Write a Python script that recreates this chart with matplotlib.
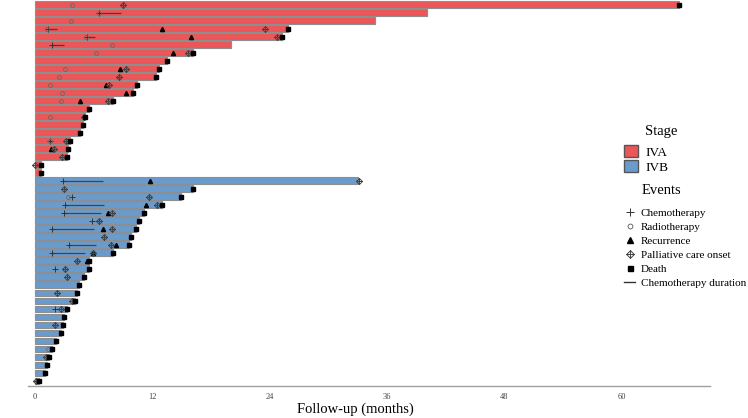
import numpy as np
import matplotlib.pyplot as plt
from matplotlib.path import Path
from matplotlib.patches import Patch
from matplotlib.lines import Line2D

plt.rcParams['font.family'] = ['Liberation Serif', 'DejaVu Serif']

# one row per patient, top to bottom
stage = ['IVA'] * 22 + ['IVB'] * 26
follow_up = [65.9, 40.1, 34.75, 25.85, 25.3, 20.1, 16.2, 13.5, 12.7, 12.4, 10.4,
             10.0, 8.0, 5.5, 5.15, 4.9, 4.6, 3.6, 3.4, 3.24, 0.68, 0.68,
             33.0, 16.2, 14.9, 12.96, 11.15, 10.64, 10.33, 9.82, 9.6, 8.0, 5.55,
             5.55, 5.05, 4.5, 4.33, 4.1, 3.3, 3.0, 2.9, 2.65, 2.2, 1.77, 1.43,
             1.28, 1.08, 0.44]
died = [1, 0, 0, 1, 1, 0, 1, 1, 1, 1, 1, 1, 1, 1, 1, 1, 1, 1, 1, 1, 1, 1,
        0, 1, 1, 1, 1, 1, 1, 1, 1, 1, 1, 1, 1, 1, 1, 1, 1, 1, 1, 1, 1, 1, 1,
        1, 1, 1]

# events: (row, months)
chemo = [(1, 6.6), (3, 1.3), (4, 5.3), (5, 1.8), (17, 1.6),
         (22, 2.9), (24, 3.8), (25, 3.07), (26, 3.0), (27, 5.83), (28, 1.8),
         (30, 3.5), (31, 1.8), (33, 2.1), (38, 2.1)]
chemo_span = [(1, 6.6, 8.8), (3, 1.3, 2.3), (4, 5.3, 6.2), (5, 1.8, 3.0),
              (22, 2.9, 7.0), (25, 3.07, 7.06), (26, 3.0, 6.75), (28, 1.8, 6.0),
              (30, 3.5, 6.3), (31, 1.8, 5.1)]
radio = [(0, 3.8), (1, 6.6), (2, 3.7), (3, 1.26), (4, 5.2), (5, 7.9), (6, 6.3),
         (8, 3.1), (9, 2.5), (10, 1.5), (11, 2.8), (12, 2.7), (14, 1.6), (17, 1.6),
         (24, 3.4), (43, 1.37)]
recurrence = [(3, 12.96), (4, 16.0), (6, 14.1), (8, 8.7), (10, 7.3), (11, 9.3),
              (12, 4.6), (18, 1.7), (22, 11.8), (25, 11.4), (26, 7.5), (28, 7.0),
              (30, 8.3), (31, 5.9), (32, 5.35)]
palliative = [(0, 9.0), (3, 23.5), (4, 24.8), (6, 15.7), (8, 9.3), (9, 8.6),
              (10, 7.6), (12, 7.5), (14, 5.0), (17, 3.2), (18, 2.0), (19, 2.8),
              (20, 0.0), (22, 33.2), (23, 2.97), (24, 11.7), (25, 12.45), (26, 7.9),
              (27, 6.6), (28, 7.9), (29, 7.06), (30, 7.8), (31, 5.9), (32, 4.35),
              (33, 3.05), (34, 3.3), (36, 2.3), (37, 3.8), (38, 2.7), (40, 2.05),
              (44, 1.1), (47, 0.1)]

stage_colors = {'IVA': '#ec5658', 'IVB': '#6a9bcd'}

# diamond with a cross inside
pall_marker = Path([(0, 1), (1, 0), (0, -1), (-1, 0), (0, 1), (0, 1), (0, -1), (-1, 0), (1, 0)],
                   [Path.MOVETO, Path.LINETO, Path.LINETO, Path.LINETO, Path.CLOSEPOLY,
                    Path.MOVETO, Path.LINETO, Path.MOVETO, Path.LINETO])

fig = plt.figure(figsize=(7.48, 4.18), dpi=100)
ax = fig.add_axes([28 / 748, 1 - 386 / 418, 682 / 748, 386 / 418])

rows = np.arange(len(follow_up))
ax.barh(rows, follow_up, height=0.86, left=0,
        color=[stage_colors[s] for s in stage], edgecolor='#8e8e8e', linewidth=0.8, zorder=1)

for r, a, b in chemo_span:
    ax.hlines(r, a, b, color='#2b2b2b', lw=0.9, alpha=0.75, zorder=2)

def pts(ev):
    return [e[1] for e in ev], [e[0] for e in ev]

x, y = pts(chemo)
ax.plot(x, y, ls='none', marker='+', ms=4.5, mew=0.7, color='#333333', zorder=3)
x, y = pts(radio)
ax.plot(x, y, ls='none', marker='o', ms=2.8, mew=0.6, mfc='none', mec='#666666', zorder=3)
x, y = pts(recurrence)
ax.plot(x, y, ls='none', marker='^', ms=3.0, color='black', zorder=3)
x, y = pts(palliative)
ax.plot(x, y, ls='none', marker=pall_marker, ms=4.3, mew=0.7, mfc='none', mec='#444444', zorder=3)
dx = [follow_up[i] for i in rows if died[i]]
dy = [i for i in rows if died[i]]
ax.plot(dx, dy, ls='none', marker='s', ms=3.0, color='black', zorder=4)

ax.set_xlim(-0.7, 69.05)
ax.set_ylim(47.62, -0.58)
ax.set_xticks([0, 12, 24, 36, 48, 60])
ax.set_yticks([])
ax.tick_params(axis='x', length=0, pad=5, labelsize=6, labelcolor='#444444')
for s in ['top', 'right', 'left']:
    ax.spines[s].set_visible(False)
ax.spines['bottom'].set_color('#a0a0a0')
ax.spines['bottom'].set_linewidth(1.0)
ax.set_xlabel('Follow-up (months)', fontsize=10.5, labelpad=3)
ax.xaxis.set_label_coords(0.48, -0.043)

# legend titles placed by hand, centred like the reference
fig.text(661 / 748, 1 - 131 / 418, 'Stage', ha='center', va='center', fontsize=10.5)
fig.text(661 / 748, 1 - 191 / 418, 'Events', ha='center', va='center', fontsize=10.5)

stage_handles = [Patch(facecolor=stage_colors['IVA'], edgecolor='#555555', label='IVA'),
                 Patch(facecolor=stage_colors['IVB'], edgecolor='#555555', label='IVB')]
leg1 = fig.legend(handles=stage_handles, loc='upper left',
                  bbox_to_anchor=(624 / 748, 1 - 145 / 418), frameon=False,
                  fontsize=9.5, handlelength=1.05, handleheight=1.05,
                  handletextpad=0.55, labelspacing=0.1, borderaxespad=0, borderpad=0)

event_handles = [
    Line2D([], [], ls='none', marker='+', ms=6, mew=0.7, color='#333333', label='Chemotherapy'),
    Line2D([], [], ls='none', marker='o', ms=3.5, mew=0.6, mfc='none', mec='#555555', label='Radiotherapy'),
    Line2D([], [], ls='none', marker='^', ms=4.2, color='black', label='Recurrence'),
    Line2D([], [], ls='none', marker=pall_marker, ms=5.5, mew=0.7, mfc='none', mec='#444444',
           label='Palliative care onset'),
    Line2D([], [], ls='none', marker='s', ms=3.6, color='black', label='Death'),
    Line2D([0, 1], [0, 0], color='#333333', lw=1.0, label='Chemotherapy duration'),
]
leg2 = fig.legend(handles=event_handles, loc='upper left',
                  bbox_to_anchor=(624 / 748, 1 - 208 / 418), frameon=False,
                  fontsize=8, handlelength=1.0, handletextpad=0.5,
                  labelspacing=0.38, borderaxespad=0, borderpad=0)

fig.savefig('out.png', dpi=100)
